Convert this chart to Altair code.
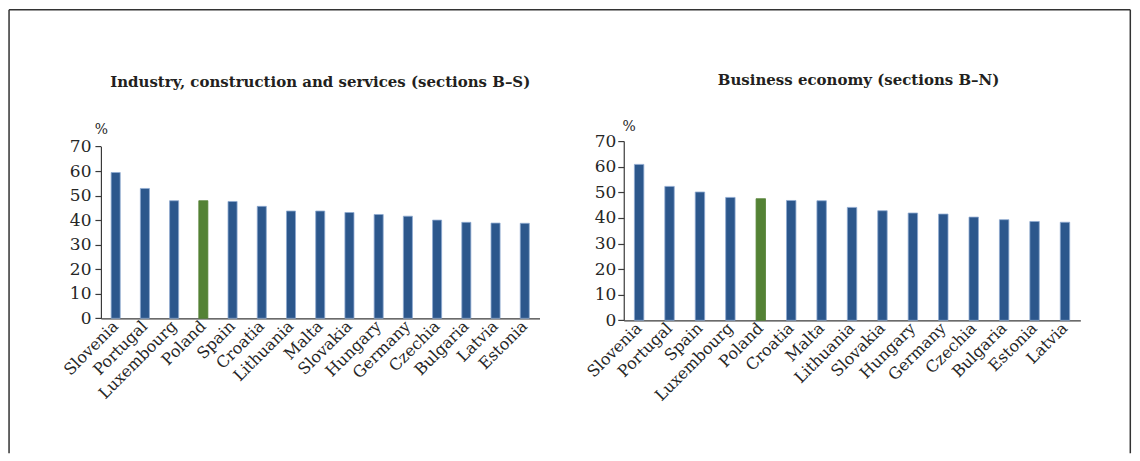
import altair as alt
import pandas as pd

# ---- data ----
countries_bs = ["Slovenia", "Portugal", "Luxembourg", "Poland", "Spain", "Croatia",
                "Lithuania", "Malta", "Slovakia", "Hungary", "Germany", "Czechia",
                "Bulgaria", "Latvia", "Estonia"]
values_bs = [59.4, 52.9, 47.9, 47.9, 47.6, 45.6, 43.7, 43.7, 43.1, 42.3, 41.6, 40.0,
             39.1, 38.8, 38.7]

countries_bn = ["Slovenia", "Portugal", "Spain", "Luxembourg", "Poland", "Croatia",
                "Malta", "Lithuania", "Slovakia", "Hungary", "Germany", "Czechia",
                "Bulgaria", "Estonia", "Latvia"]
values_bn = [60.9, 52.3, 50.1, 48.0, 47.5, 46.8, 46.7, 44.1, 42.8, 41.9, 41.5, 40.3,
             39.3, 38.6, 38.3]

y_ticks = [0, 10, 20, 30, 40, 50, 60, 70]
title_bs = "Industry, construction and services (sections B–S)"
title_bn = "Business economy (sections B–N)"
highlight = "Poland"

BLUE = "#2c578c"
GREEN = "#548235"
BLUE_EDGE = "#8eaad0"
TXT = "#262626"
AXIS = "#3a3a3a"
FRAME = "#333333"
FONT = "DejaVu Serif"
LBL = 16
YLBL = 17


def rule(x, y, x2, y2):
    return alt.Chart(pd.DataFrame({"k": [0]})).mark_rule(
        stroke=FRAME, strokeWidth=1.5
    ).encode(x=alt.value(x), y=alt.value(y), x2=alt.value(x2), y2=alt.value(y2))


def panel(countries, values, title, width, height, yrange, xaxis_offset,
          pct_x, pct_y, title_x, title_y, ylabel_pad, frame=None):
    df = pd.DataFrame({
        "country": countries,
        "value": values,
        "group": ["Poland" if c == highlight else "Other" for c in countries],
    })
    bars = alt.Chart(df).mark_bar(strokeWidth=0.8).encode(
        x=alt.X("country:N", sort=countries,
                scale=alt.Scale(paddingInner=0.69, paddingOuter=0.35),
                axis=alt.Axis(title=None, labelAngle=-45, labelAlign="right",
                              labelBaseline="middle", labelPadding=5,
                              labelFont=FONT, labelFontSize=LBL, labelColor=TXT,
                              labelOverlap=False, labelLimit=300,
                              ticks=False, domainColor=AXIS, domainWidth=1.2,
                              offset=xaxis_offset)),
        y=alt.Y("value:Q",
                scale=alt.Scale(domain=[0, 70], range=yrange, nice=False, zero=True),
                axis=alt.Axis(values=y_ticks, grid=False, title="%",
                              titleAngle=0, titleX=pct_x, titleY=pct_y,
                              titleAlign="center", titleBaseline="alphabetic",
                              titleFont=FONT, titleFontSize=14,
                              titleFontWeight="normal", titleColor=TXT,
                              labelFont=FONT, labelFontSize=YLBL, labelColor=TXT,
                              labelPadding=ylabel_pad, tickSize=6, tickColor=AXIS,
                              tickWidth=1.2, domainColor=AXIS, domainWidth=1.2)),
        color=alt.Color("group:N",
                        scale=alt.Scale(domain=["Other", "Poland"], range=[BLUE, GREEN]),
                        legend=None),
        stroke=alt.Stroke("group:N",
                          scale=alt.Scale(domain=["Other", "Poland"],
                                          range=[BLUE_EDGE, GREEN]),
                          legend=None),
    )
    ttl = alt.Chart(pd.DataFrame({"k": [0]})).mark_text(
        text=title, font=FONT, fontSize=15, fontWeight="bold", color="#231f20",
        align="center", baseline="alphabetic"
    ).encode(x=alt.value(title_x), y=alt.value(title_y))
    layers = [bars, ttl]
    if frame is not None:
        fx, fy, fx2, fy2 = frame
        layers = [rule(fx, fy, fx, fy2), rule(fx, fy, fx2, fy), rule(fx2, fy, fx2, fy2)] + layers
    return alt.layer(*layers).properties(width=width, height=height)


H = 179.4
# frame: left/top/right edges, relative to the first panel's plot area
p1 = panel(countries_bs, values_bs, title_bs, 439, H, [177.4, 5.4], -2,
           0, -7.5, 219.5, -54.5, 4, frame=(-91.95, -131.55, 1030.3, 312.5))
p2 = panel(countries_bn, values_bn, title_bn, 457, H, [H, 0], 0,
           5, -10.3, 235, -56.5, 2)

chart = alt.hconcat(p1, p2, spacing=84.3, bounds="flush").properties(
    padding=0, background="white"
).configure_view(stroke=None)

chart.save("out.html", embed_options={"renderer": "svg", "actions": False})
